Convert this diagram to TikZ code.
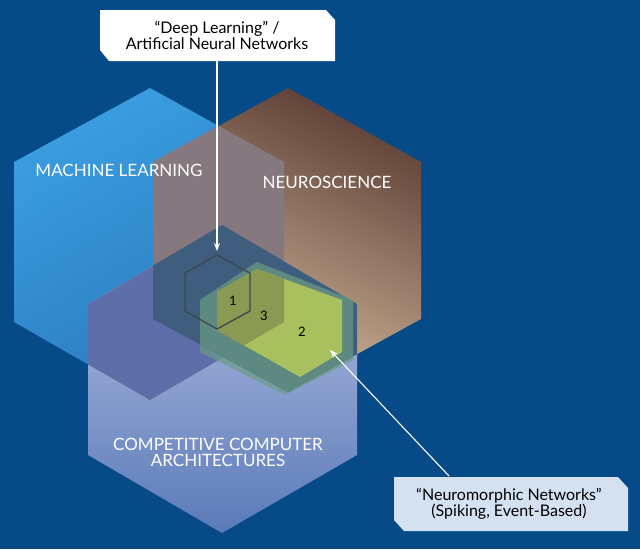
\documentclass[tikz,border=0pt]{standalone}
\usepackage{fontspec}
\setmainfont{Lato}
\usetikzlibrary{arrows.meta}
\definecolor{bg}{HTML}{064B88}
\definecolor{mlA}{HTML}{3A9EE0}\definecolor{mlB}{HTML}{2A78BC}
\definecolor{nsA}{HTML}{5E4036}\definecolor{nsB}{HTML}{DCC0A2}
\definecolor{ccA}{HTML}{BCC6E6}\definecolor{ccB}{HTML}{5A7AB8}
\definecolor{mlns}{HTML}{85787E}\definecolor{mlcc}{HTML}{5E6EA8}
\definecolor{nscc}{HTML}{3F5D7C}\definecolor{teal}{HTML}{6A9C84}
\definecolor{grn}{HTML}{A9C05E}\definecolor{olv}{HTML}{8A9A52}
\definecolor{hexo}{HTML}{3C4650}\definecolor{lbox}{HTML}{D3E1F1}
\begin{document}
\begin{tikzpicture}[x=1pt,y=-1pt,
  lbl/.style={text=white,font=\fontsize{17}{19}\selectfont,align=center},
  box/.style={font=\fontsize{16}{18}\selectfont,align=center,text=black},
  arr/.style={white,line width=1.1pt,-{Stealth[length=8pt,width=6pt]}}]
\useasboundingbox (0,0) rectangle (640,549);
\fill[bg] (0,0) rectangle (640,549);
\def\ML{(150,88)--(284,162)--(284,322)--(150,400)--(14,322)--(14,162)--cycle}
\def\NS{(288,88)--(421,162)--(421,319)--(288,392)--(153,319)--(153,162)--cycle}
\def\CC{(222,225)--(357,304)--(357,455)--(222,533)--(88,455)--(88,304)--cycle}
\def\TL{(257,262)--(353,300)--(353,360)--(285,395)--(200,352)--(200,300)--cycle}
\def\GR{(257,269)--(342,300)--(342,352)--(300,377)--(217,330)--(217,292)--cycle}
\def\HO{(217,255)--(250,273)--(250,311)--(217,329)--(185,311)--(185,273)--cycle}
% base hexagons
\shade[left color=mlA,right color=mlB,shading angle=30] \ML;
\shade[top color=nsA,bottom color=nsB,shading angle=-25] \NS;
\shade[top color=ccA,bottom color=ccB] \CC;
% overlaps
\begin{scope}\clip \ML; \fill[mlns] \NS; \fill[mlcc] \CC; \end{scope}
\begin{scope}\clip \NS; \fill[nscc] \CC; \end{scope}
% teal and green
\begin{scope}\clip \CC; \fill[teal,opacity=0.7] \TL; \end{scope}
\begin{scope}\clip \NS; \clip \TL; \fill[nscc] \CC; \fill[teal,opacity=0.7] \TL; \end{scope}
\fill[grn] \GR;
\begin{scope}\clip \GR; \fill[olv] \ML; \end{scope}
\draw[hexo,line width=1.3pt] \HO;
% labels
\node[lbl] (ml) at (119,170) {MACHINE LEARNING};
\node[lbl] (ns) at (327,182) {NEUROSCIENCE};
\node[lbl] (cc) at (218,452) {COMPETITIVE COMPUTER\\[-3pt]ARCHITECTURES};
\node[font=\fontsize{13}{15}\selectfont] (n1) at (233,301) {1};
\node[font=\fontsize{13}{15}\selectfont] (n2) at (302,332) {2};
\node[font=\fontsize{13}{15}\selectfont] (n3) at (264,316) {3};
% callouts
\fill[white] (100,10)--(326,10)--(335,20)--(335,61)--(109,61)--(100,50)--cycle;
\node[box] (dl) at (217,35) {“Deep Learning” /\\[-2pt]Artificial Neural Networks};
\fill[lbox] (394,477)--(618,477)--(628,488)--(628,531)--(404,531)--(394,520)--cycle;
\node[box] (nn) at (509,504) {“Neuromorphic Networks”\\[-2pt](Spiking, Event-Based)};
\coordinate (t1) at (217,251);
\coordinate (t2) at (330,350);
\draw[arr] (dl.south |- 0,61) -- (t1);
\draw[arr] (449,476) -- (t2);
\end{tikzpicture}
\end{document}
